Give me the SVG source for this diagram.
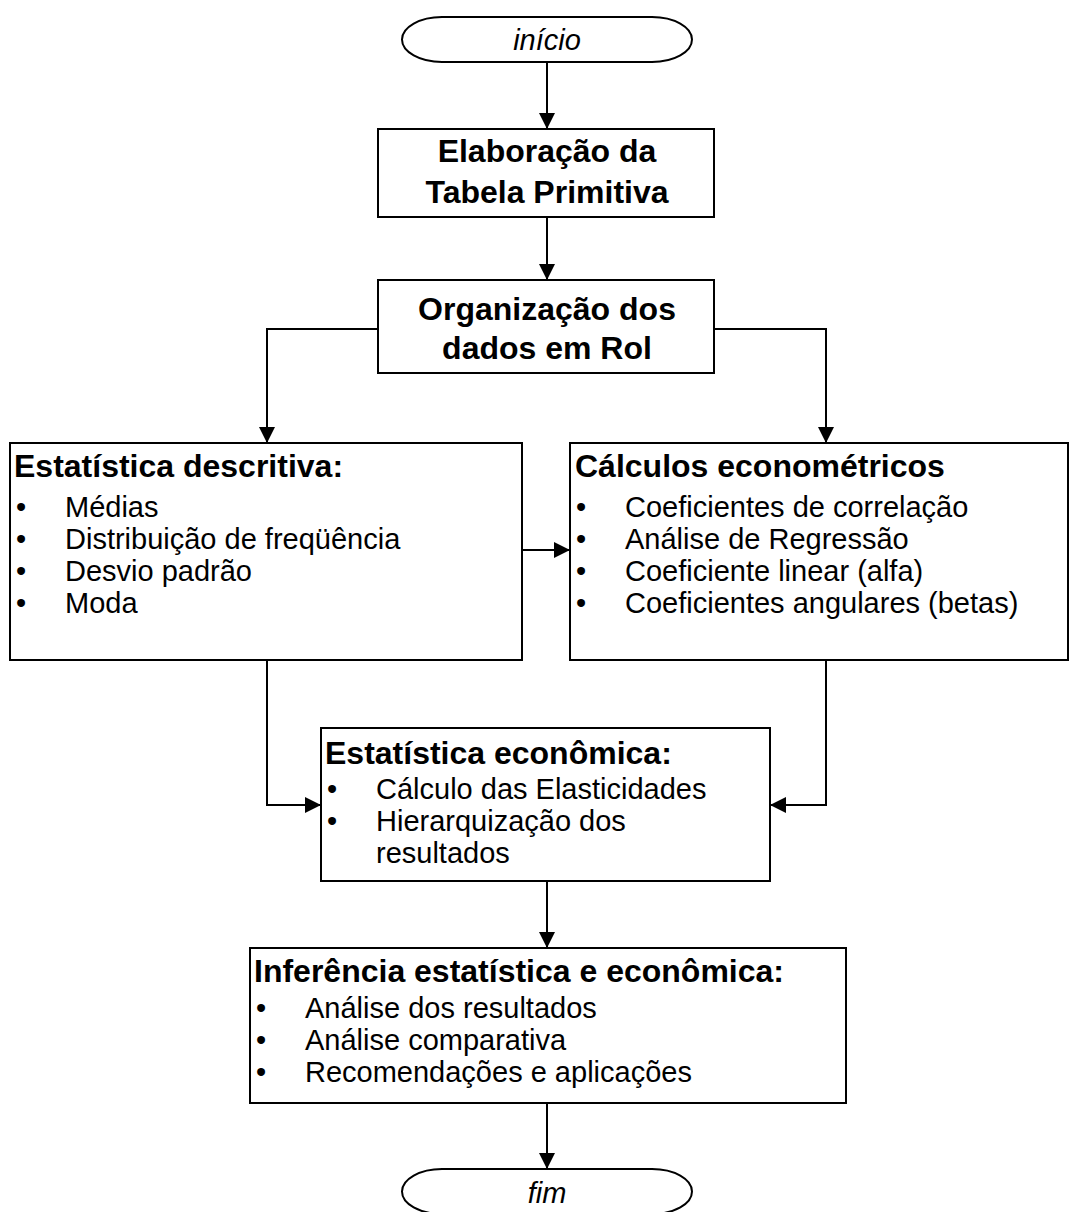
<svg xmlns="http://www.w3.org/2000/svg" width="1070" height="1212" viewBox="0 0 1070 1212">
<defs>
<marker id="ah" markerWidth="16" markerHeight="16" refX="16" refY="8" orient="auto" markerUnits="userSpaceOnUse">
<path d="M0,0 L16,8 L0,16 Z" fill="#000"/>
</marker>
</defs>
<style>
.box{fill:#fff;stroke:#000;stroke-width:2}
.ln{fill:none;stroke:#000;stroke-width:2;marker-end:url(#ah)}
text{font-family:"Liberation Sans",Arial,sans-serif;fill:#000}
.t{font-size:32px;font-weight:bold}
.c{text-anchor:middle}
.i{font-size:29px}
.term{font-size:29px;font-style:italic}
</style>
<rect width="1070" height="1212" fill="#fff"/>
<g id="connectors">
<path class="ln" d="M547,62 L547,129"/>
<path class="ln" d="M547,217 L547,280"/>
<path class="ln" d="M378,329 L267,329 L267,443"/>
<path class="ln" d="M714,329 L826,329 L826,443"/>
<path class="ln" d="M522,550 L570,550"/>
<path class="ln" d="M267,660 L267,805 L321,805"/>
<path class="ln" d="M826,660 L826,805 L770,805"/>
<path class="ln" d="M547,881 L547,948"/>
<path class="ln" d="M547,1103 L547,1169"/>
</g>
<g id="inicio">
<rect class="box" x="402" y="17" width="290" height="45" rx="40" ry="22.5"/>
<text class="term c" x="547" y="50">início</text>
</g>
<g id="tabela">
<rect class="box" x="378" y="129" width="336" height="88"/>
<text class="t c" x="547" y="162">Elaboração da</text>
<text class="t c" x="547" y="203">Tabela Primitiva</text>
</g>
<g id="rol">
<rect class="box" x="378" y="280" width="336" height="93"/>
<text class="t c" x="547" y="320">Organização dos</text>
<text class="t c" x="547" y="359">dados em Rol</text>
</g>
<g id="descritiva">
<rect class="box" x="10" y="443" width="512" height="217"/>
<text class="t" x="14" y="477">Estatística descritiva:</text>
<text class="i" x="16" y="517">•</text><text class="i" x="65" y="517">Médias</text>
<text class="i" x="16" y="549">•</text><text class="i" x="65" y="549">Distribuição de freqüência</text>
<text class="i" x="16" y="581">•</text><text class="i" x="65" y="581">Desvio padrão</text>
<text class="i" x="16" y="613">•</text><text class="i" x="65" y="613">Moda</text>
</g>
<g id="econometricos">
<rect class="box" x="570" y="443" width="498" height="217"/>
<text class="t" x="575" y="477">Cálculos econométricos</text>
<text class="i" x="576" y="517">•</text><text class="i" x="625" y="517">Coeficientes de correlação</text>
<text class="i" x="576" y="549">•</text><text class="i" x="625" y="549">Análise de Regressão</text>
<text class="i" x="576" y="581">•</text><text class="i" x="625" y="581">Coeficiente linear (alfa)</text>
<text class="i" x="576" y="613">•</text><text class="i" x="625" y="613">Coeficientes angulares (betas)</text>
</g>
<g id="economica">
<rect class="box" x="321" y="728" width="449" height="153"/>
<text class="t" x="325" y="764">Estatística econômica:</text>
<text class="i" x="327" y="799">•</text><text class="i" x="376" y="799">Cálculo das Elasticidades</text>
<text class="i" x="327" y="831">•</text><text class="i" x="376" y="831">Hierarquização dos</text>
<text class="i" x="376" y="863">resultados</text>
</g>
<g id="inferencia">
<rect class="box" x="250" y="948" width="596" height="155"/>
<text class="t" x="254" y="982">Inferência estatística e econômica:</text>
<text class="i" x="256" y="1018">•</text><text class="i" x="305" y="1018">Análise dos resultados</text>
<text class="i" x="256" y="1050">•</text><text class="i" x="305" y="1050">Análise comparativa</text>
<text class="i" x="256" y="1082">•</text><text class="i" x="305" y="1082">Recomendações e aplicações</text>
</g>
<g id="fim">
<rect class="box" x="402" y="1169" width="290" height="45" rx="40" ry="22.5"/>
<text class="term c" x="547" y="1203">fim</text>
</g>
</svg>
